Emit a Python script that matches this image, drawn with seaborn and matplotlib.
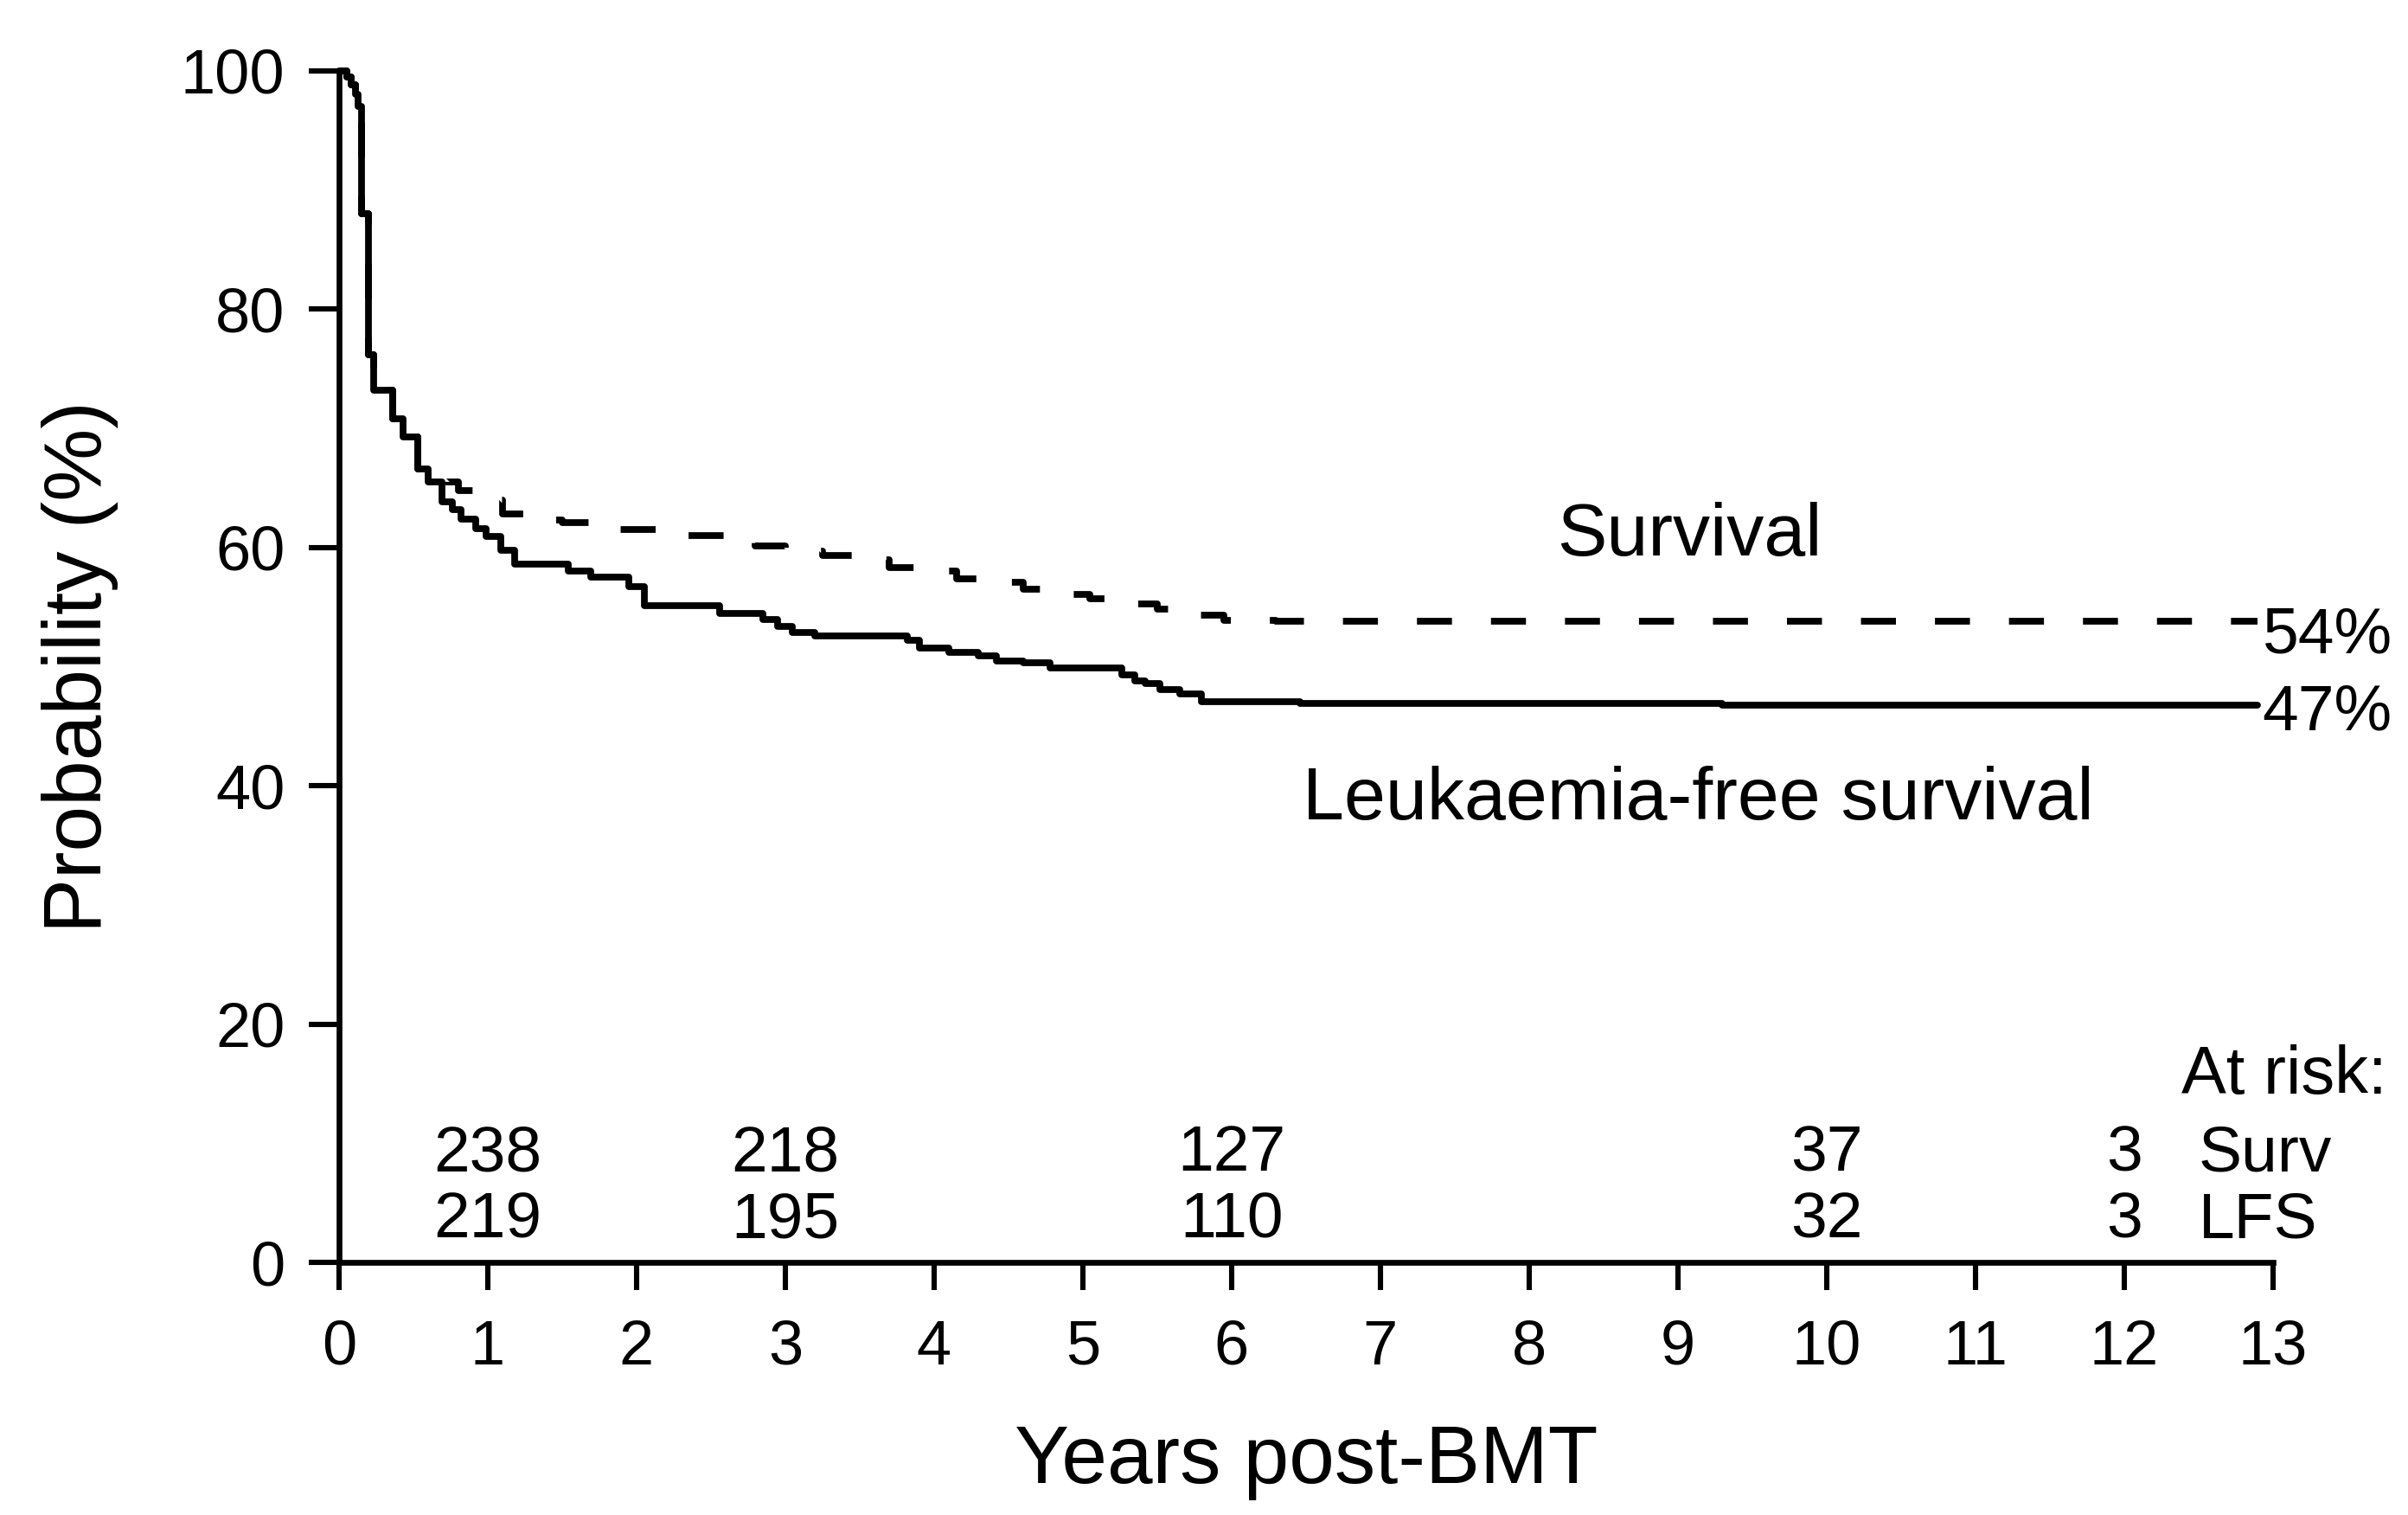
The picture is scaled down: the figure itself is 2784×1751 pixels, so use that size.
import matplotlib
matplotlib.use("Agg")
import matplotlib.pyplot as plt
import seaborn as sns
import pandas as pd

# Kaplan-Meier style step curves (years post-BMT, %)
surv_years = [0, 0.05, 0.08, 0.11, 0.13, 0.15, 0.20, 0.23, 0.36, 0.43,
              0.53, 0.72, 0.80, 0.98, 1.10, 1.25, 1.50, 1.85, 2.25, 2.60,
              2.80, 3.00, 3.25, 3.50, 3.70, 3.98, 4.15, 4.43, 4.60, 4.85,
              5.05, 5.35, 5.50, 5.77, 5.95, 6.30, 12.9]
surv_values = [100, 99.5, 98.8, 98.0, 97.0, 88.0, 76.2, 73.2, 70.8, 69.3,
               66.6, 65.5, 64.8, 64.0, 62.8, 62.3, 62.1, 61.5, 61.0, 60.6,
               60.1, 59.7, 59.3, 59.0, 58.3, 58.0, 57.4, 57.1, 56.5, 56.1,
               55.7, 55.3, 54.8, 54.3, 53.9, 53.8, 53.8]

lfs_years = [0, 0.05, 0.08, 0.11, 0.13, 0.15, 0.20, 0.23, 0.36, 0.43,
             0.53, 0.60, 0.69, 0.76, 0.82, 0.92, 0.99, 1.09, 1.18, 1.54,
             1.69, 1.95, 2.05, 2.56, 2.85, 2.95, 3.05, 3.20, 3.82, 3.90,
             4.10, 4.30, 4.42, 4.60, 4.78, 5.26, 5.35, 5.42, 5.52, 5.65,
             5.80, 6.46, 9.30, 12.9]
lfs_values = [100, 99.5, 98.8, 98.0, 97.0, 88.0, 76.2, 73.2, 70.8, 69.3,
              66.6, 65.5, 63.8, 63.2, 62.4, 61.6, 60.9, 59.8, 58.6, 58.0,
              57.5, 56.7, 55.1, 54.5, 54.0, 53.4, 52.9, 52.6, 52.2, 51.6,
              51.2, 50.9, 50.5, 50.3, 49.9, 49.3, 48.8, 48.6, 48.1, 47.7,
              47.1, 46.9, 46.8, 46.8]

# numbers at risk
risk_years = [1, 3, 6, 10, 12]
risk_surv = [238, 218, 127, 37, 3]
risk_lfs = [219, 195, 110, 32, 3]

x_ticks = list(range(0, 14))
y_ticks = [0, 20, 40, 60, 80, 100]

surv_df = pd.DataFrame({"years": surv_years, "prob": surv_values})
lfs_df = pd.DataFrame({"years": lfs_years, "prob": lfs_values})

sns.set_style("ticks")
plt.rcParams["font.family"] = ["Liberation Sans", "DejaVu Sans"]
plt.rcParams["text.color"] = "black"
plt.rcParams["axes.labelcolor"] = "black"
plt.rcParams["xtick.color"] = "black"
plt.rcParams["ytick.color"] = "black"

fig = plt.figure(figsize=(13.92, 8.755), dpi=200)
ax = fig.add_axes([0.1408, 0.1665, 0.803, 0.7868])

sns.lineplot(data=lfs_df, x="years", y="prob", ax=ax, color="black",
             linewidth=2.8, drawstyle="steps-post", estimator=None,
             clip_on=False)
sns.lineplot(data=surv_df, x="years", y="prob", ax=ax, color="black",
             linewidth=2.8, drawstyle="steps-post", estimator=None,
             dashes=False, linestyle=(0, (5.2, 5.8)), clip_on=False)

ax.set_xlim(0, 13)
ax.set_ylim(0, 100)
ax.set_xticks(x_ticks)
ax.set_yticks(y_ticks)
ax.tick_params(axis="x", direction="out", length=11.5, width=2.2,
               labelsize=26, pad=12, color="black", labelcolor="black")
ax.tick_params(axis="y", direction="out", length=12.5, width=2.2,
               labelsize=26, pad=10, color="black", labelcolor="black")
for side in ["top", "right"]:
    ax.spines[side].set_visible(False)
for side in ["left", "bottom"]:
    ax.spines[side].set_linewidth(2.4)
    ax.spines[side].set_color("black")

ax.set_xlabel("Years post-BMT", fontsize=34, labelpad=19, color="black")
ax.set_ylabel("Probability (%)", fontsize=34, labelpad=26, color="black")

ax.text(9.08, 59.3, "Survival", fontsize=31, ha="center", va="baseline")
ax.text(9.14, 37.2, "Leukaemia-free survival", fontsize=31,
        ha="center", va="baseline")
ax.text(12.93, 51.2, "54%", fontsize=27, ha="left", va="baseline",
        clip_on=False)
ax.text(12.93, 44.7, "47%", fontsize=27, ha="left", va="baseline",
        clip_on=False)

ax.text(13.77, 14.2, "At risk:", fontsize=28, ha="right", va="baseline",
        clip_on=False)
for yr, s, l in zip(risk_years, risk_surv, risk_lfs):
    ax.text(yr, 7.7, str(s), fontsize=27, ha="center", va="baseline")
    ax.text(yr, 2.1, str(l), fontsize=27, ha="center", va="baseline")
ax.text(12.5, 7.7, "Surv", fontsize=27, ha="left", va="baseline",
        clip_on=False)
ax.text(12.5, 2.1, "LFS", fontsize=27, ha="left", va="baseline",
        clip_on=False)

fig.savefig("out.png", dpi=200, facecolor="white")
